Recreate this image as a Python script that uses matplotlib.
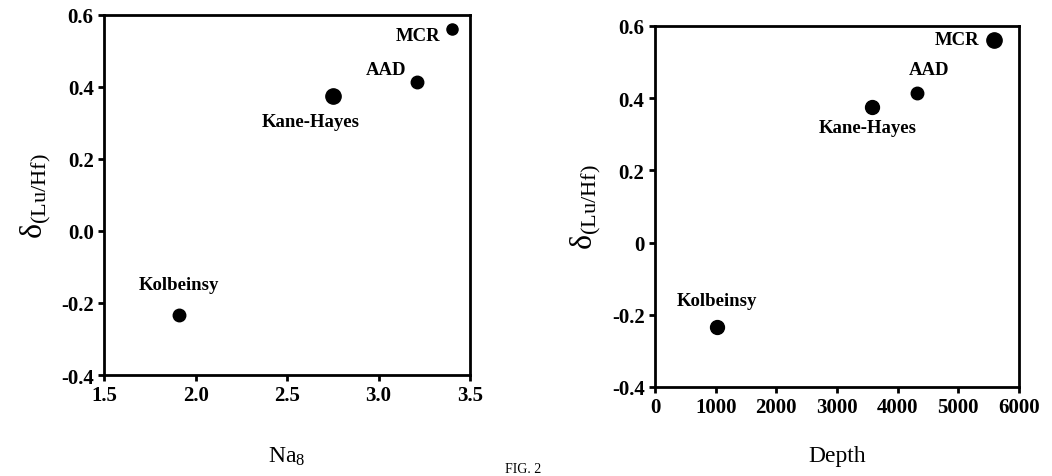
import matplotlib.pyplot as plt

plt.rcParams['font.family'] = ['Liberation Serif', 'DejaVu Serif']
plt.rcParams['mathtext.fontset'] = 'custom'
plt.rcParams['mathtext.rm'] = 'Liberation Serif'
plt.rcParams['mathtext.it'] = 'Liberation Serif'
plt.rcParams['mathtext.bf'] = 'Liberation Serif:bold'

sites = ['Kolbeinsy', 'Kane-Hayes', 'AAD', 'MCR']
na8 = [1.91, 2.75, 3.21, 3.40]
depth = [1020, 3580, 4320, 5590]
delta_luhf = [-0.233, 0.376, 0.413, 0.561]

left_sizes = [9, 11, 9, 8]
right_sizes = [10, 10, 9, 11]

# label offsets in points, text centred on the offset
offs_left = [(0, 22), (-16, -19), (-22, 9), (-24, -5)]
offs_right = [(0, 19), (-3, -15), (9, 17), (-27, 0)]

fig = plt.figure(figsize=(10.52, 4.77), dpi=100)
ax1 = fig.add_axes([0.0989, 0.2117, 0.348, 0.755])
ax2 = fig.add_axes([0.6226, 0.1866, 0.346, 0.757])


def draw(ax, xs, sizes, offs):
    for x, y, s, name, o in zip(xs, delta_luhf, sizes, sites, offs):
        ax.plot(x, y, 'o', color='black', ms=s)
        ax.annotate(name, (x, y), xytext=o, textcoords='offset points',
                    ha='center', va='center', fontsize=13.5, fontweight='bold')
    for sp in ax.spines.values():
        sp.set_linewidth(2)
    ax.tick_params(direction='out', width=2, length=4, labelsize=15)
    for lab in ax.get_xticklabels() + ax.get_yticklabels():
        lab.set_fontweight('bold')
    ax.set_ylabel(r'$\delta_{\mathregular{(Lu/Hf)}}$', fontsize=23, labelpad=6)


ax1.set_xlim(1.5, 3.5)
ax1.set_ylim(-0.4, 0.6)
ax1.set_xticks([1.5, 2.0, 2.5, 3.0, 3.5])
ax1.set_xticklabels(['1.5', '2.0', '2.5', '3.0', '3.5'])
ax1.set_yticks([-0.4, -0.2, 0.0, 0.2, 0.4, 0.6])
ax1.set_yticklabels(['-0.4', '-0.2', '0.0', '0.2', '0.4', '0.6'])
draw(ax1, na8, left_sizes, offs_left)
ax1.set_xlabel(r'Na$_8$', fontsize=17, labelpad=28)

ax2.set_xlim(0, 6000)
ax2.set_ylim(-0.4, 0.6)
ax2.set_xticks([0, 1000, 2000, 3000, 4000, 5000, 6000])
ax2.set_yticks([-0.4, -0.2, 0, 0.2, 0.4, 0.6])
ax2.set_yticklabels(['-0.4', '-0.2', '0', '0.2', '0.4', '0.6'])
draw(ax2, depth, right_sizes, offs_right)
ax2.set_xlabel('Depth', fontsize=17, labelpad=20)

fig.text(0.48, 0.002, 'FIG. 2', fontsize=10, va='bottom')

fig.savefig('out.png', dpi=100)
